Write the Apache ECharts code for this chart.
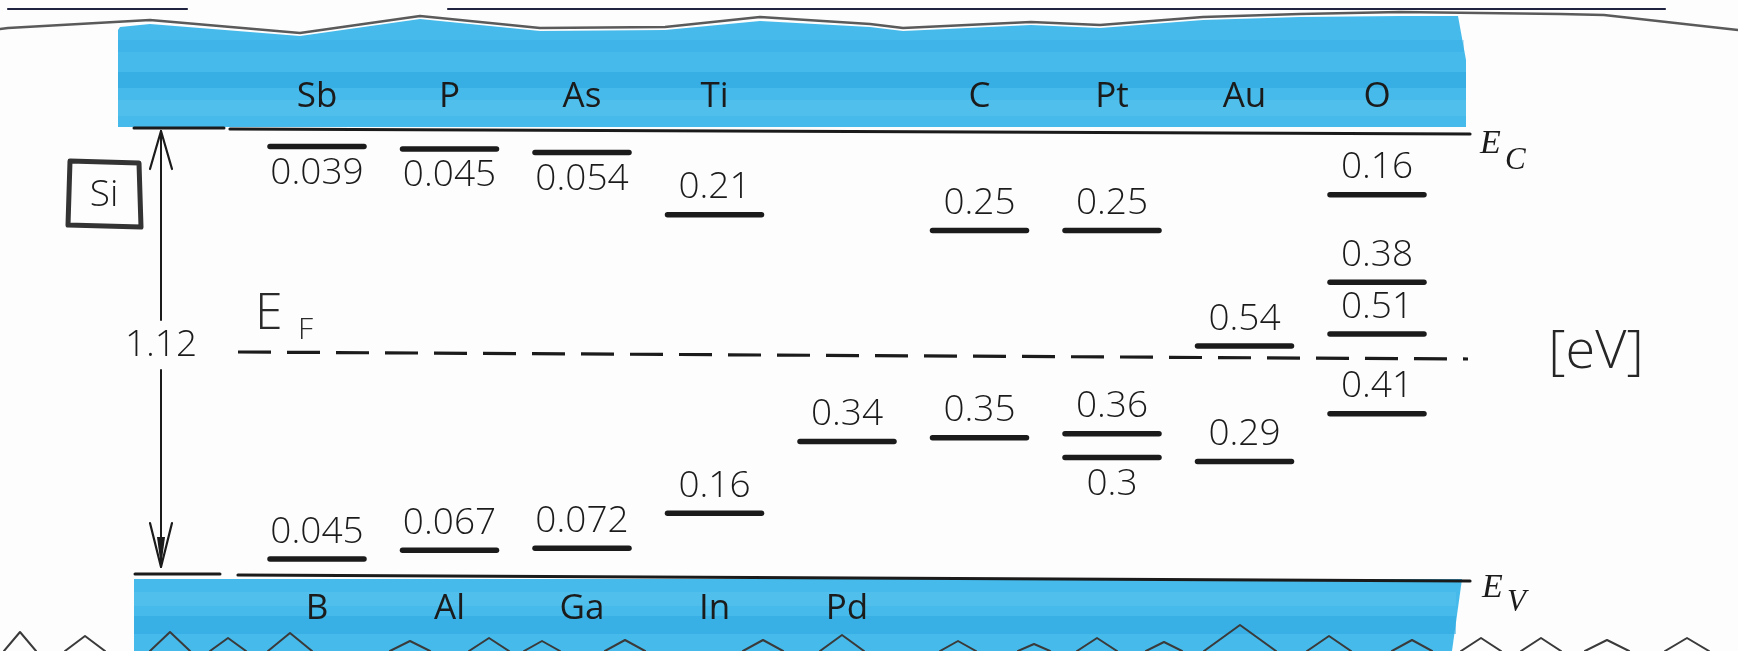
<!DOCTYPE html>
<html>
<head>
<meta charset="utf-8">
<title>Impurity levels in Si</title>
<script src="https://cdn.jsdelivr.net/npm/echarts@6/dist/echarts.min.js"></script>
<style>
  html, body { margin: 0; padding: 0; background: #fdfdfd; }
  #chart { width: 1738px; height: 651px; }
</style>
</head>
<body>
<div id="chart"></div>
<script>
// Silicon band gap and midgap Fermi level, in eV above E_V
const BANDGAP = 1.12;
const FERMI_LEVEL = 0.56;

// Element names per column: written in the conduction band (top) and valence band (bottom)
const topRowNames    = ['Sb', 'P', 'As', 'Ti', '', 'C', 'Pt', 'Au', 'O'];
const bottomRowNames = ['B', 'Al', 'Ga', 'In', 'Pd', '', '', '', ''];

// Levels measured down from E_C (eV)
const upperElems  = ['Sb', 'P', 'As', 'Ti', 'C', 'Pt', 'O', 'O', 'O', 'Au'];
const upperDepths = [0.039, 0.045, 0.054, 0.21, 0.25, 0.25, 0.16, 0.38, 0.51, 0.54];

// Levels measured up from E_V (eV)
const lowerElems   = ['B', 'Al', 'Ga', 'In', 'Pd', 'C', 'Pt', 'Pt', 'Au', 'O'];
const lowerHeights = [0.045, 0.067, 0.072, 0.16, 0.34, 0.35, 0.36, 0.3, 0.29, 0.41];

// ---- styling ----
const INK = '#1b1b1b';
const NUM_FONT = '300 37px "Open Sans", "DejaVu Sans", sans-serif';
const NAME_FONT = '400 35px "Open Sans", "DejaVu Sans", sans-serif';
const BLUE = '#46bbeb';
const BLUE_DARK = '#2ea7e0';
const BLUE_LIGHT = '#6fcaf0';
// labels drawn under their level line instead of above it
const LABEL_BELOW = ['Sb 0.039', 'P 0.045', 'As 0.054', 'Pt 0.3'];

function colOf(name) {
  let i = topRowNames.indexOf(name);
  if (i < 0) i = bottomRowNames.indexOf(name);
  return i;
}

// Build level records: [column, energy above E_V]
const levels = [];
upperElems.forEach((el, i) => {
  levels.push({ col: colOf(el), energy: BANDGAP - upperDepths[i], text: String(upperDepths[i]),
                below: LABEL_BELOW.includes(el + ' ' + upperDepths[i]) });
});
lowerElems.forEach((el, i) => {
  levels.push({ col: colOf(el), energy: lowerHeights[i], text: String(lowerHeights[i]),
                below: LABEL_BELOW.includes(el + ' ' + lowerHeights[i]) });
});

const nameItems = [];
topRowNames.forEach((n, i) => { if (n) nameItems.push({ col: i, energy: BANDGAP, text: n, top: true }); });
bottomRowNames.forEach((n, i) => { if (n) nameItems.push({ col: i, energy: 0, text: n, top: false }); });

const chart = echarts.init(document.getElementById('chart'), null, { renderer: 'canvas' });

function txt(x, y, text, font, extra) {
  return {
    type: 'text', x: x, y: y,
    style: Object.assign({ text: text, font: font, fill: INK, align: 'center', verticalAlign: 'middle' }, extra || {})
  };
}
function pl(points, stroke, lw, extra) {
  return { type: 'polyline', shape: { points: points },
           style: Object.assign({ stroke: stroke, lineWidth: lw, fill: null, lineJoin: 'round', lineCap: 'round' }, extra || {}) };
}
// soft horizontal marker stroke inside a highlighted band
function streak(x, y, w, h, color, alpha) {
  return { type: 'rect', shape: { x: x, y: y, width: w, height: h },
           style: { fill: color, opacity: alpha } };
}

// Highlighted bands, band edges, Fermi level, gap arrow and annotations
function renderFrame(params, api) {
  const yc = api.coord([0, BANDGAP])[1];
  const yv = api.coord([0, 0])[1];
  const yf = api.coord([0, FERMI_LEVEL])[1];
  const H = api.getHeight();
  const W = api.getWidth();
  const ch = [];

  // paper edge at the top
  ch.push(pl([[8, 9], [187, 9]], '#20233f', 2.2));
  ch.push(pl([[448, 9], [1665, 9]], '#20233f', 2.2));

  // conduction band highlight
  const topEdge = [[120, 27], [150, 24], [300, 36], [420, 19], [540, 31], [665, 30], [760, 21],
                   [870, 27], [903, 31], [1031, 25], [1100, 28], [1203, 20], [1300, 17], [1400, 16], [1458, 16]];
  ch.push({ type: 'polygon', shape: { points: topEdge.concat([[1466, 60], [1466, yc - 4], [118, yc - 4], [118, 30]]) },
            style: { fill: BLUE } });
  ch.push(streak(118, 40, 1346, 12, BLUE_DARK, 0.3));
  ch.push(streak(118, 72, 1348, 16, BLUE_DARK, 0.6));
  ch.push(streak(118, 100, 1348, 16, BLUE_LIGHT, 0.25));

  // wavy torn edge
  ch.push(pl([[0, 29], [8, 28], [150, 20], [300, 33], [420, 16], [540, 28], [665, 27], [760, 17], [870, 24],
              [903, 28], [1031, 22], [1100, 25], [1203, 17], [1300, 14], [1400, 12], [1560, 14], [1604, 15], [W, 30]],
             '#5a5a5a', 2.4));

  // valence band highlight
  ch.push({ type: 'polygon', shape: { points: [[134, yv + 2], [1462, yv + 2], [1452, H], [134, H]] }, style: { fill: BLUE } });
  ch.push(streak(134, 616, 1322, 18, BLUE_DARK, 0.55));
  ch.push(streak(134, 592, 1322, 14, BLUE_LIGHT, 0.25));

  // zig-zag edge at the bottom
  const peaks = [[20, 632, 16], [85, 636, 20], [170, 632, 20], [228, 638, 18], [290, 633, 22], [410, 641, 20],
                 [489, 638, 20], [542, 641, 18], [625, 640, 20], [763, 640, 20], [842, 635, 22], [958, 641, 18],
                 [1034, 644, 16], [1097, 638, 20], [1164, 642, 18], [1240, 625, 36], [1329, 636, 22],
                 [1412, 640, 20], [1481, 638, 20], [1541, 638, 20], [1607, 640, 22], [1687, 638, 22]];
  peaks.forEach(p => ch.push(pl([[p[0] - p[2], H], [p[0], p[1]], [p[0] + p[2], H]], '#3a3a3a', 2)));

  // band edges
  ch.push(pl([[134, yc - 3], [224, yc - 3]], INK, 3));
  ch.push(pl([[230, yc - 2], [1470, yc + 3]], INK, 3.2));
  ch.push(pl([[135, yv - 3], [220, yv - 3]], INK, 3));
  ch.push(pl([[238, yv - 2], [1470, yv + 4]], INK, 3.2));

  // Fermi level
  ch.push(pl([[238, yf - 2], [1468, yf + 5]], INK, 3.2, { lineDash: [33, 16], lineCap: 'butt' }));

  // band gap arrow
  const ax = 161;
  ch.push(pl([[ax, yc], [ax, 320]], INK, 2));
  ch.push(pl([[ax, 370], [ax, yv - 10]], INK, 2));
  ch.push(pl([[ax - 11, yc + 38], [ax, yc], [ax + 11, yc + 38]], INK, 2.2));
  ch.push(pl([[ax - 11, yv - 54], [ax, yv - 10], [ax + 11, yv - 54]], INK, 2.2));
  ch.push({ type: 'polygon', shape: { points: [[ax - 4, yv - 40], [ax, yv - 10], [ax + 4, yv - 40]] }, style: { fill: INK } });
  ch.push(txt(ax, 345, String(BANDGAP), NUM_FONT));

  // material box
  ch.push({ type: 'polygon', shape: { points: [[70, 161], [139, 163], [141, 227], [68, 225]] },
            style: { fill: null, stroke: '#333', lineWidth: 5, lineJoin: 'round' } });
  ch.push(txt(104, 195, 'Si', NUM_FONT));

  // level names
  ch.push(txt(255, 315, 'E', '300 50px "Open Sans", sans-serif', { align: 'left', fill: '#2a2a2a' }));
  ch.push(txt(298, 330, 'F', '300 30px "Open Sans", sans-serif', { align: 'left', fill: '#2a2a2a' }));
  const serif = 'italic 34px "Liberation Serif", "DejaVu Serif", serif';
  ch.push(txt(1480, yc + 13, 'E', serif, { align: 'left' }));
  ch.push(txt(1505, yc + 30, 'C', 'italic 31px "Liberation Serif", "DejaVu Serif", serif', { align: 'left' }));
  ch.push(txt(1482, yv + 11, 'E', serif, { align: 'left' }));
  ch.push(txt(1507, yv + 26, 'V', 'italic 31px "Liberation Serif", "DejaVu Serif", serif', { align: 'left' }));
  ch.push(txt(1596, 353, '[eV]', '300 54px "Open Sans", sans-serif', { fill: '#262626' }));

  return { type: 'group', children: ch };
}

// One short bar per impurity level with its energy written next to it
function renderLevel(params, api) {
  const lv = levels[params.dataIndex];
  const p = api.coord([lv.col, lv.energy]);
  const half = 47;
  return {
    type: 'group',
    children: [
      { type: 'line', shape: { x1: p[0] - half, y1: p[1], x2: p[0] + half, y2: p[1] },
        style: { stroke: INK, lineWidth: 5.5, lineCap: 'round' } },
      txt(p[0], p[1] + (lv.below ? 27 : -27), lv.text, NUM_FONT)
    ]
  };
}

function renderName(params, api) {
  const it = nameItems[params.dataIndex];
  const p = api.coord([it.col, it.energy]);
  return txt(p[0], p[1] + (it.top ? -34 : 32), it.text, NAME_FONT);
}

chart.setOption({
  backgroundColor: '#fdfdfd',
  animation: false,
  grid: { left: 52, right: 96, top: 131, bottom: 74 },
  xAxis: { type: 'value', min: -2, max: 10, show: false },
  yAxis: { type: 'value', min: 0, max: BANDGAP, show: false },
  series: [
    { type: 'custom', name: 'frame', clip: false, silent: true, z: 1,
      data: [[0, 0]], renderItem: renderFrame },
    { type: 'custom', name: 'levels', clip: false, silent: true, z: 3,
      data: levels.map(l => [l.col, l.energy]), renderItem: renderLevel },
    { type: 'custom', name: 'elements', clip: false, silent: true, z: 3,
      data: nameItems.map(n => [n.col, n.energy]), renderItem: renderName }
  ]
});
</script>
</body>
</html>
